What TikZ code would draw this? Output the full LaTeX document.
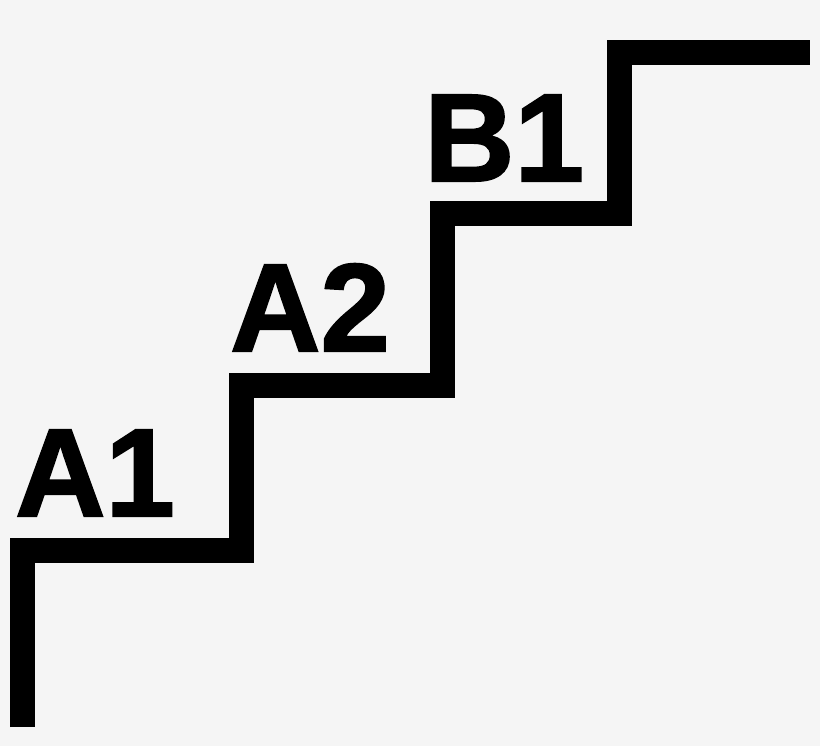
\documentclass[tikz,border=0pt]{standalone}
\usepackage{fontspec}
\setmainfont{Liberation Sans}[BoldFeatures={FakeBold=1.6}]
\definecolor{bg}{HTML}{F5F5F5}
\begin{document}
\begin{tikzpicture}[x=1pt,y=-1pt,
  stair/.style={line width=25pt,line cap=butt,line join=miter,black},
  lbl/.style={font=\fontsize{125}{125}\selectfont\bfseries,inner sep=0pt,anchor=base west}]
\fill[bg] (0,0) rectangle (820,746);
\useasboundingbox (0,0) rectangle (820,746);
\coordinate (s0) at (22.5,727);
\coordinate (s1) at (22.5,550);
\coordinate (s2) at (241.5,550);
\coordinate (s3) at (241.5,385.5);
\coordinate (s4) at (442.5,385.5);
\coordinate (s5) at (442.5,213.5);
\coordinate (s6) at (619.5,213.5);
\coordinate (s7) at (619.5,52.5);
\coordinate (s8) at (810,52.5);
\draw[stair] (s0) -- (s1) -- (s2) -- (s3) -- (s4) -- (s5) -- (s6) -- (s7) -- (s8);
\node[lbl] (a1) at (15,516) {A1};
\node[lbl] (a2) at (230,351) {A2};
\node[lbl] (b1) at (424,181) {B1};
\end{tikzpicture}
\end{document}
